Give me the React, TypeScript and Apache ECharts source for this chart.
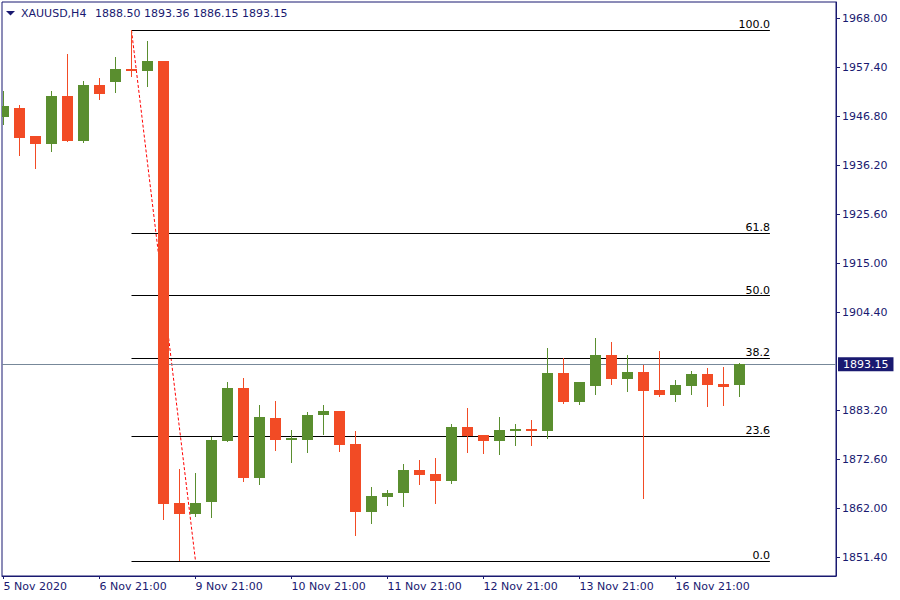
import React, { useEffect, useRef } from 'react';
import * as echarts from 'echarts';

const SYMBOL = 'XAUUSD,H4';
const LAST_OHLC = ['1888.50', '1893.36', '1886.15', '1893.15'];
const LAST_PRICE = 1893.15;

const OPEN = [
  1946.71, 1948.66, 1942.54, 1940.81, 1951.19, 1941.52, 1953.57, 1954.22, 1957.03, 1956.6,
  1958.76, 1863.14, 1860.83, 1863.43, 1876.56, 1888.02, 1868.62, 1881.53, 1876.77, 1876.77,
  1882.18, 1883.05, 1875.91, 1861.2, 1864.44, 1865.31, 1870.28, 1869.42, 1867.9, 1879.59,
  1877.85, 1876.56, 1878.72, 1879.15, 1878.79, 1891.33, 1884.99, 1888.45, 1895.23, 1889.97,
  1891.55, 1887.65, 1886.51, 1888.45, 1891.12, 1888.95, 1888.5,
];
const HIGH = [
  1952.34, 1949.24, 1942.54, 1952.34, 1960.28, 1954.44, 1955.08, 1959.63, 1965.4, 1963.09,
  1958.76, 1870.56, 1869.63, 1877.49, 1889.32, 1890.25, 1884.34, 1885.21, 1878.94, 1882.83,
  1884.34, 1883.05, 1878.72, 1866.61, 1865.96, 1871.58, 1872.45, 1872.88, 1880.23, 1883.7,
  1877.85, 1881.75, 1880.23, 1881.1, 1896.68, 1894.51, 1889.39, 1898.9, 1898.04, 1895.23,
  1893.06, 1896.03, 1889.82, 1891.76, 1892.41, 1892.63, 1893.36,
];
const LOW = [
  1944.92, 1938.28, 1935.4, 1939.08, 1941.3, 1941.09, 1950.33, 1951.84, 1955.3, 1953.14,
  1859.47, 1850.6, 1860.18, 1859.96, 1876.34, 1867.69, 1867.04, 1874.39, 1871.8, 1873.96,
  1877.85, 1874.18, 1856.0, 1858.6, 1862.5, 1862.28, 1867.04, 1862.93, 1867.25, 1873.96,
  1873.74, 1873.53, 1875.48, 1875.48, 1877.05, 1884.56, 1884.34, 1886.51, 1888.67, 1887.16,
  1864.01, 1886.07, 1884.99, 1886.51, 1883.91, 1884.13, 1886.15,
];
const CLOSE = [
  1949.03, 1942.17, 1940.81, 1951.19, 1941.52, 1953.57, 1951.62, 1957.03, 1956.6, 1958.76,
  1862.99, 1860.83, 1863.14, 1876.77, 1888.02, 1868.62, 1881.75, 1876.77, 1877.21, 1882.18,
  1883.05, 1875.69, 1861.2, 1864.66, 1865.31, 1870.28, 1869.2, 1867.9, 1879.59, 1877.64,
  1876.56, 1878.94, 1879.15, 1878.72, 1891.33, 1884.99, 1889.39, 1895.23, 1889.97, 1891.55,
  1887.37, 1886.51, 1888.74, 1891.12, 1888.67, 1888.24, 1893.15,
];

const X_TICK_INDEX = [0, 6, 12, 18, 24, 30, 36, 42];
const X_TICK_LABELS = [
  '5 Nov 2020', '6 Nov 21:00', '9 Nov 21:00', '10 Nov 21:00',
  '11 Nov 21:00', '12 Nov 21:00', '13 Nov 21:00', '16 Nov 21:00',
];
const Y_TICKS = [1851.4, 1862.0, 1872.6, 1883.2, 1904.4, 1915.0, 1925.6, 1936.2, 1946.8, 1957.4, 1968.0];

const FIB_HIGH = 1965.4;
const FIB_LOW = 1850.6;
const FIB_LEVELS = [0, 23.6, 38.2, 50, 61.8, 100];
const FIB_START = 8;
const FIB_END = 47.9;
const TREND_END = 12;

const X_MIN = -0.09375;
const X_MAX = 52.03125;
const Y_MIN = 1847.354;
const Y_MAX = 1971.526;

const NAVY = '#191970';
const RED = '#F24B25';
const GREEN = '#5A8E2F';
const FONT = 'DejaVu Sans';

export default function App() {
  const ref = useRef<HTMLDivElement>(null);
  useEffect(() => {
    const chart = echarts.init(ref.current!, null, { renderer: 'svg' });
    const data = OPEN.map((o, i) => [i, o, CLOSE[i], LOW[i], HIGH[i]]);
    const fibValue = (l: number) => FIB_LOW + ((FIB_HIGH - FIB_LOW) * l) / 100;

    const fibLines = FIB_LEVELS.map((lvl) => {
      const v = fibValue(lvl);
      return [
        {
          coord: [FIB_START, v],
          lineStyle: { color: '#000000', width: 1, type: 'solid' },
          label: {
            show: true,
            position: 'insideEndTop',
            formatter: lvl.toFixed(1),
            color: '#000000',
            fontSize: 11,
            fontFamily: FONT,
            distance: 0,
          },
        },
        { coord: [FIB_END, v] },
      ];
    });

    const option: any = {
      animation: false,
      backgroundColor: '#ffffff',
      textStyle: { fontFamily: FONT },
      grid: {
        left: 2,
        right: 64,
        top: 2,
        bottom: 24,
        show: true,
        borderColor: NAVY,
        borderWidth: 1,
        backgroundColor: 'transparent',
      },
      xAxis: {
        type: 'value',
        min: X_MIN,
        max: X_MAX,
        axisLine: { show: true, onZero: false, lineStyle: { color: NAVY, width: 1 } },
        axisTick: { show: true, length: 3, customValues: X_TICK_INDEX, lineStyle: { color: NAVY } },
        axisLabel: {
          customValues: X_TICK_INDEX,
          formatter: (v: number) => {
            const k = X_TICK_INDEX.indexOf(Math.round(v));
            return k >= 0 ? X_TICK_LABELS[k] : '';
          },
          align: 'left',
          margin: 5,
          color: NAVY,
          fontSize: 11,
          fontFamily: FONT,
        },
        splitLine: { show: false },
      },
      yAxis: {
        type: 'value',
        position: 'right',
        min: Y_MIN,
        max: Y_MAX,
        axisLine: { show: true, onZero: false, lineStyle: { color: NAVY, width: 1 } },
        axisTick: { show: true, length: 4, customValues: Y_TICKS, lineStyle: { color: NAVY } },
        axisLabel: {
          customValues: Y_TICKS,
          formatter: (v: number) => v.toFixed(2),
          margin: 6,
          color: NAVY,
          fontSize: 11,
          fontFamily: FONT,
        },
        splitLine: { show: false },
      },
      graphic: [
        {
          type: 'polygon',
          shape: { points: [[6, 11], [15, 11], [10.5, 15.5]] },
          style: { fill: NAVY },
        },
        {
          type: 'text',
          x: 21,
          y: 13,
          style: { text: SYMBOL, fill: NAVY, font: `11px "${FONT}"`, textVerticalAlign: 'middle' },
        },
        {
          type: 'text',
          x: 95,
          y: 13,
          style: { text: LAST_OHLC.join(' '), fill: NAVY, font: `11px "${FONT}"`, textVerticalAlign: 'middle' },
        },
      ],
      series: [
        {
          type: 'line',
          z: 2,
          data: [[FIB_START, FIB_HIGH], [TREND_END, FIB_LOW]],
          symbol: 'none',
          lineStyle: { color: '#ff0000', width: 1, type: [3, 2] },
          silent: true,
          markLine: {
            silent: true,
            symbol: ['none', 'none'],
            animation: false,
            data: [
              {
                yAxis: LAST_PRICE,
                lineStyle: { color: '#778899', width: 1, type: 'solid' },
                label: {
                  show: true,
                  position: 'end',
                  formatter: LAST_PRICE.toFixed(2),
                  color: '#ffffff',
                  backgroundColor: NAVY,
                  padding: [1, 5, 0, 5],
                  lineHeight: 13,
                  distance: 2,
                  fontSize: 11,
                  fontFamily: FONT,
                },
              },
              ...fibLines,
            ],
          },
        },
        {
          type: 'custom',
          z: 5,
          clip: true,
          data,
          encode: { x: 0, y: [1, 2, 3, 4] },
          renderItem: (params: any, api: any) => {
            const x = api.value(0);
            const o = api.value(1);
            const c = api.value(2);
            const l = api.value(3);
            const h = api.value(4);
            const po = api.coord([x, o]);
            const pc = api.coord([x, c]);
            const pl = api.coord([x, l]);
            const ph = api.coord([x, h]);
            const color = c >= o ? GREEN : RED;
            const cx = Math.floor(po[0]) + 0.5;
            const top = Math.round(Math.min(po[1], pc[1]));
            const bh = Math.max(Math.round(Math.abs(po[1] - pc[1])), 2);
            return {
              type: 'group',
              children: [
                {
                  type: 'line',
                  shape: { x1: cx, y1: Math.round(ph[1]), x2: cx, y2: Math.round(pl[1]) },
                  style: { stroke: color, lineWidth: 1 },
                },
                {
                  type: 'rect',
                  shape: { x: cx - 5.5, y: top, width: 11, height: bh },
                  style: { fill: color },
                },
              ],
            };
          },
        },
      ],
    };
    chart.setOption(option);
    return () => chart.dispose();
  }, []);
  return (
    <div
      ref={ref}
      style={{ position: 'fixed', left: 0, top: 0, width: 900, height: 600, background: '#ffffff' }}
    />
  );
}
